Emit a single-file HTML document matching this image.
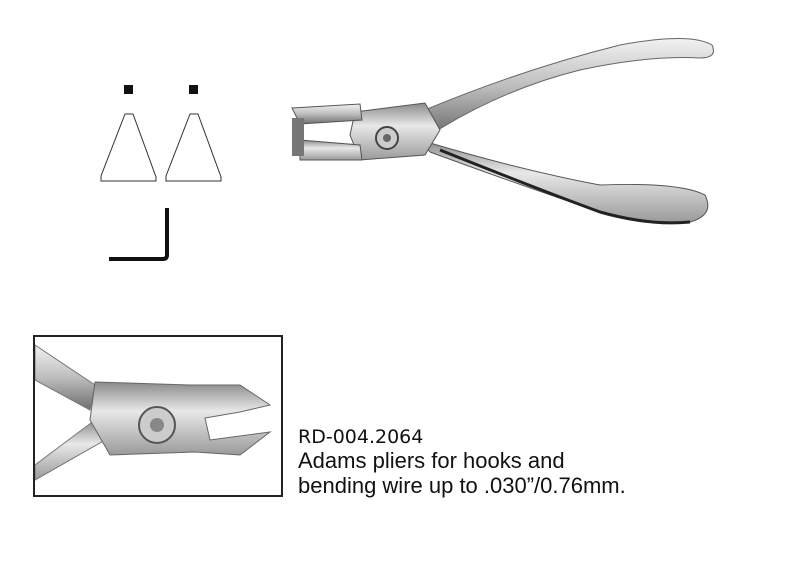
<!DOCTYPE html>
<html><head><style>
body{margin:0;width:789px;height:561px;background:#fff;overflow:hidden;position:relative;font-family:"Liberation Sans",sans-serif}
.t{position:absolute;left:298px;font-size:22px;line-height:24px;color:#111;white-space:nowrap}
</style></head><body>
<svg width="789" height="561" style="position:absolute;left:0;top:0">
<defs>
<linearGradient id="g1" x1="0" y1="0" x2="0" y2="1"><stop offset="0" stop-color="#f2f2f2"/><stop offset=".5" stop-color="#bdbdbd"/><stop offset="1" stop-color="#6e6e6e"/></linearGradient>
<linearGradient id="g2" x1="0" y1="0" x2="0" y2="1"><stop offset="0" stop-color="#8a8a8a"/><stop offset=".4" stop-color="#e8e8e8"/><stop offset="1" stop-color="#9a9a9a"/></linearGradient>
</defs>
<rect x="124" y="85" width="9" height="9" fill="#111"/>
<rect x="189" y="85" width="9" height="9" fill="#111"/>
<polygon points="125,114 133,114 156,177 156,181 101,181 101,176" fill="none" stroke="#333" stroke-width="1"/>
<polygon points="190,114 198,114 221,177 221,181 166,181 166,176" fill="none" stroke="#333" stroke-width="1"/>
<path d="M167,208 V255 Q167,259 163,259 H109" fill="none" stroke="#111" stroke-width="4"/>
<path d="M420,112 Q520,70 620,45 Q690,32 712,45 Q718,58 700,58 Q650,55 580,70 Q500,90 430,135 Z" fill="url(#g1)" stroke="#666" stroke-width="1"/>
<path d="M420,140 Q520,170 600,185 Q680,182 705,195 Q715,215 690,222 Q640,225 600,212 Q520,185 430,152 Z" fill="url(#g2)" stroke="#555" stroke-width="1"/>
<path d="M440,150 Q540,190 600,212 Q650,226 690,222" fill="none" stroke="#222" stroke-width="3"/>
<path d="M355,112 L425,103 L440,130 L425,155 L360,160 L350,135 Z" fill="url(#g2)" stroke="#555"/>
<circle cx="387" cy="138" r="11" fill="#ccc" stroke="#444" stroke-width="2"/>
<circle cx="387" cy="138" r="4" fill="#666"/>
<path d="M292,108 L360,104 L362,120 L300,124 Z" fill="url(#g1)" stroke="#555"/>
<path d="M300,140 L360,145 L362,160 L300,160 Z" fill="url(#g2)" stroke="#555"/>
<rect x="292" y="118" width="12" height="38" fill="#777"/>
<rect x="34" y="336" width="248" height="160" fill="#fff" stroke="#222" stroke-width="2"/>
<clipPath id="c"><rect x="35" y="337" width="246" height="158"/></clipPath>
<g clip-path="url(#c)">
<path d="M35,345 L95,385 L90,410 L35,380 Z" fill="url(#g1)" stroke="#777"/>
<path d="M35,465 L95,420 L105,440 L35,480 Z" fill="url(#g2)" stroke="#777"/>
<path d="M95,382 L190,385 L240,385 L270,405 L240,412 L205,418 L210,440 L270,432 L240,455 L195,452 L110,455 L90,420 Z" fill="url(#g2)" stroke="#666"/>
<circle cx="157" cy="425" r="18" fill="#ccc" stroke="#555" stroke-width="2"/>
<circle cx="157" cy="425" r="7" fill="#888"/>
</g>
</svg>
<div class="t" style="top:425px;font-family:'DejaVu Sans',sans-serif;font-size:19px">RD-004.2064</div>
<div class="t" style="top:449px">Adams pliers for hooks and</div>
<div class="t" style="top:474px">bending wire up to .030”/0.76mm.</div>
</body></html>
